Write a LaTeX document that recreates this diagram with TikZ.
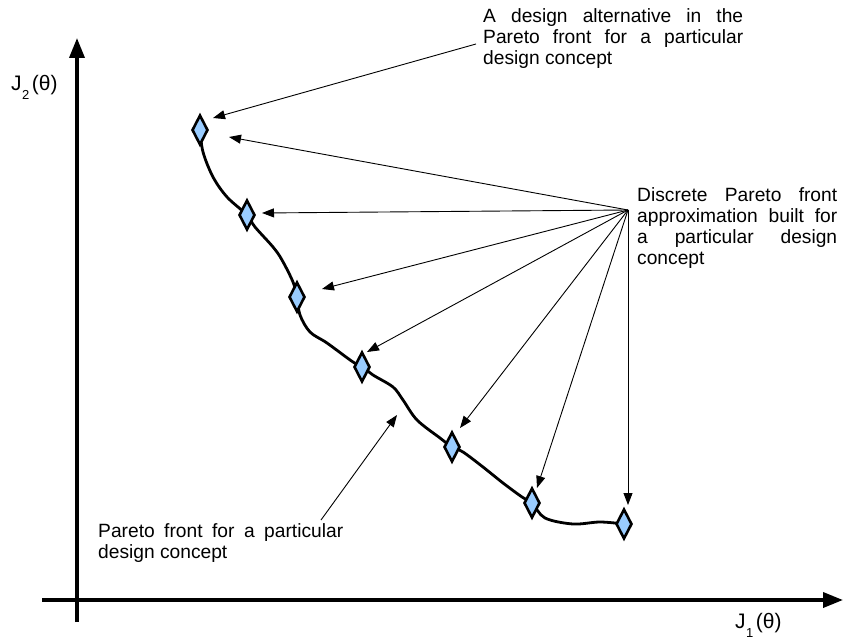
\documentclass[tikz,border=0pt]{standalone}
\usepackage{fontspec}
\setmainfont{Liberation Sans}
\usepackage{tikz}
\usetikzlibrary{arrows.meta,shapes.geometric}

\definecolor{ptblue}{RGB}{153,204,255}
\newcommand{\spreadline}[2]{\makebox[#1][s]{#2}}
\newcommand{\lowsub}[1]{\kern0.5pt\raisebox{-9pt}{\fontsize{13}{13}\selectfont #1}\kern2.5pt}

\tikzset{
  axis/.style={line width=3.6pt, -{Triangle[length=20pt,width=15pt]}},
  front/.style={line width=2.8pt},
  design/.style={diamond, draw, line width=2.6pt, fill=ptblue, inner sep=0pt, minimum width=16pt, minimum height=30pt},
  pointer/.style={line width=0.9pt, -{Triangle[length=12pt,width=9pt]}},
  note/.style={inner sep=0pt, align=left, font=\fontsize{19.2}{20.7}\selectfont},
  axlabel/.style={inner sep=0pt, font=\fontsize{21}{21}\selectfont}
}

\begin{document}
\begin{tikzpicture}[x=1pt,y=-1pt]
\useasboundingbox (0,0) rectangle (843,639);

% axes
\coordinate (ybot) at (77,622);
\coordinate (ytop) at (77,38);
\coordinate (xlft) at (42,600);
\coordinate (xrgt) at (843,600);
\draw [axis] (ybot) -- (ytop);
\draw [axis] (xlft) -- (xrgt);
\node [axlabel, anchor=base west] (j2) at (11,91) {J\lowsub{2}(θ)};
\node [axlabel, anchor=base west] (j1) at (735,628) {J\lowsub{1}(θ)};

% pareto front
\draw [front] plot [smooth, tension=0.55] coordinates {(200,130) (203,152) (213,177) (227,197) (247,215) (255,227) (273,247) (282,260) (293,282) (297,297) (300,315) (310,332) (327,343) (353,362) (363,367) (373,375) (393,387) (403,400) (417,420) (440,438) (452,447) (463,452) (483,467) (503,483) (522,497) (532,503) (545,518) (573,524) (600,522) (624,524)};

\node [design] (d1) at (200,130) {};
\node [design] (d2) at (247,215) {};
\node [design] (d3) at (297,297) {};
\node [design] (d4) at (362,367) {};
\node [design] (d5) at (452,447) {};
\node [design] (d6) at (532,503) {};
\node [design] (d7) at (624,524) {};

% notes (base = last line)
\node [note, anchor=base west] (alt) at (483,64.4) {\spreadline{260pt}{A design alternative in the}\\
\spreadline{260pt}{Pareto front for a particular}\\
design concept};
\node [note, anchor=base west] (disc) at (637,264) {\spreadline{200pt}{Discrete Pareto front}\\
\spreadline{200pt}{approximation built for}\\
\spreadline{200pt}{a particular design}\\
concept};
\node [note, anchor=base west] (pf) at (98,558) {\spreadline{245pt}{Pareto front for a particular}\\
design concept};

% pointers
\coordinate (src) at (628,210);
\coordinate (altsrc) at (476,44);
\coordinate (pfsrc) at (321,520);
\coordinate (t1) at (213,118);
\coordinate (t2) at (229,137);
\coordinate (t3) at (262,213);
\coordinate (t4) at (322,289);
\coordinate (t5) at (367,352);
\coordinate (t6) at (460,428);
\coordinate (t7) at (537,488);
\coordinate (t8) at (628,505);
\coordinate (t9) at (397,415);

\draw [pointer] (altsrc) -- (t1);
\foreach \t in {t2,t3,t4,t5,t6,t7,t8}
  \draw [pointer] (src) -- (\t);
\draw [pointer] (pfsrc) -- (t9);

\end{tikzpicture}
\end{document}
